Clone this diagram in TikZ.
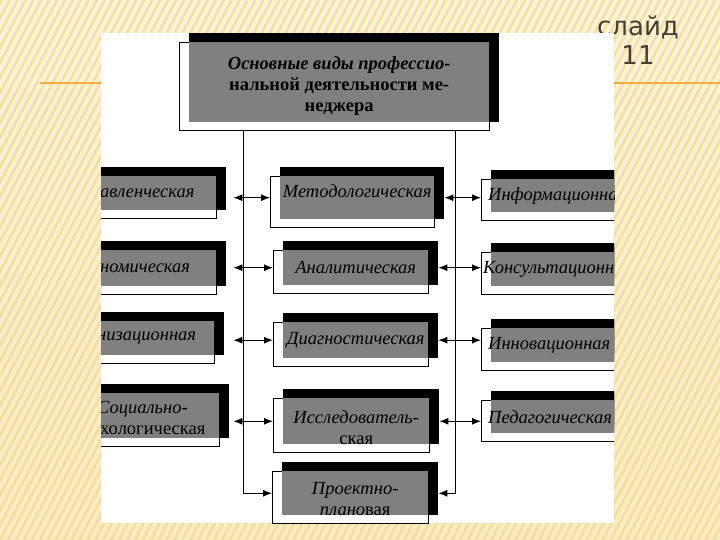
\documentclass[tikz,border=0pt]{standalone}
\usepackage{xcolor}
\usepackage{fontspec}
\setmainfont{Liberation Serif}
\newfontfamily\slidefont{DejaVu Sans}
\usepackage{tikz}
\usetikzlibrary{arrows.meta, shadows, patterns.meta, positioning}

\definecolor{cardgray}{HTML}{808080}
\definecolor{bgtop}{HTML}{FDF3D6}
\definecolor{bgbot}{HTML}{FAEBBF}
\definecolor{stripe}{HTML}{F0D999}
\definecolor{rulecol}{HTML}{F0AE40}
\definecolor{slidebrown}{HTML}{4A3E33}

\begin{document}
\begin{tikzpicture}[
  x = 1pt, y = -1pt,
  every node/.style = {font=\fontsize{18.5}{21}\selectfont\itshape},
  card/.style     = {rectangle, fill=cardgray, inner sep=0pt, anchor=north west,
                     general shadow={fill=black, shadow yshift=9pt},
                     general shadow={fill=black, shadow xshift=10pt},
                     general shadow={fill=black, shadow xshift=10pt, shadow yshift=9pt},
                     append after command={\pgfextra{\draw[framebox]
                       ([xshift=-10pt]\tikzlastnode.north west) rectangle
                       ([yshift=-8pt]\tikzlastnode.south east);}}},
  framebox/.style = {draw=black, line width=0.9pt},
  midcard/.style  = {card, align=center},
  sidecard/.style = {card, align=left},
  trunk/.style    = {line width=1pt, -{Latex[length=9pt, width=7pt]}},
  biarrow/.style  = {line width=1pt,
                     {Latex[length=9pt, width=7pt]}-{Latex[length=9pt, width=7pt]}}
]

\useasboundingbox (0,0) rectangle (720,540);

% --- фон слайда ---
\shade[top color=bgtop, bottom color=bgbot] (0,0) rectangle (720,540);
\fill[pattern={Lines[angle=62, distance=7pt, line width=2.6pt]},
      pattern color=stripe, opacity=0.75] (0,0) rectangle (720,540);
\draw[rulecol, line width=2pt] (40,83) -- (720,83);
\node[font=\slidefont\fontsize{26}{29}\selectfont, text=slidebrown, align=center]
  (slidenum) at (638,40) {слайд\\11};

\fill[white] (101,33) rectangle (614,523);

\begin{scope}
\clip (101,33) rectangle (614,523);

% --- заголовок ---
\node[midcard, minimum width=300pt, minimum height=80pt,
      font=\fontsize{18.5}{21}\selectfont\bfseries] (top) at (189,42)
  {\rule{0pt}{21pt}\itshape Основные виды профессио-\\\upshape нальной деятельности ме-\\неджера};

% --- левый столбец ---
\node[sidecard, text width=116pt, minimum height=34pt] (upr) at (100,176) {авленческая};
\node[sidecard, text width=116pt, minimum height=36pt] (eco) at (100,250) {номическая};
\node[sidecard, text width=117pt, minimum height=34pt] (org) at (97,321)  {низационная};
\node[sidecard, text width=119pt, minimum height=45pt] (soc) at (100,393)
  {\rule{0pt}{17pt}\hspace*{-3pt}Социально-\\\upshape хологическая};

% --- средний столбец ---
\node[midcard, minimum width=154pt, minimum height=43pt, text depth=13pt] (met) at (280,176)
  {Методологическая};
\node[midcard, minimum width=145pt, minimum height=35pt] (ana) at (283,250) {Аналитическая};
\node[midcard, minimum width=145pt, minimum height=36pt] (dia) at (283,322) {Диагностическая};
\node[midcard, minimum width=146pt, minimum height=43pt] (res) at (283,398)
  {\rule{0pt}{25pt}Исследователь-\\\upshape ская};
\node[midcard, minimum width=146pt, minimum height=43pt] (pro) at (282,471)
  {\rule{0pt}{23pt}Проектно-\\плано\upshape вая};

% --- правый столбец ---
\node[sidecard, text width=130pt, minimum height=33pt] (inf) at (491,179) {\hspace*{-3pt}Информационна};
\node[sidecard, text width=130pt, minimum height=34pt] (kon) at (491,252) {\hspace*{-8pt}Консультационн};
\node[sidecard, text width=130pt, minimum height=34pt] (inn) at (491,328) {\hspace*{-3pt}Инновационная};
\node[sidecard, text width=130pt, minimum height=33pt] (ped) at (491,400) {\hspace*{-3pt}Педагогическая};

% --- вертикальные линии ---
\coordinate (trunkL) at (243,130);
\coordinate (trunkR) at (455,130);
\draw[trunk] (trunkL) |- ([xshift=-10pt]pro.west);
\draw[trunk] (trunkR) |- ([xshift=10pt]pro.east);

% --- стрелки ---
\draw[biarrow] ([xshift=17pt]met.west -| upr.east) -- ([xshift=-10pt]met.west);
\draw[biarrow] ([xshift=17pt]ana.west -| eco.east) -- ([xshift=-10pt]ana.west);
\draw[biarrow] ([xshift=19pt]dia.west -| org.east) -- ([xshift=-10pt]dia.west);
\draw[biarrow] ([xshift=14pt]res.west -| soc.east) -- ([xshift=-10pt]res.west);

\draw[biarrow] ([xshift=10pt]met.east) -- ([xshift=-10pt]met.east -| inf.west);
\draw[biarrow] ([xshift=10pt]ana.east) -- ([xshift=-10pt]ana.east -| kon.west);
\draw[biarrow] ([xshift=10pt]dia.east) -- ([xshift=-10pt]dia.east -| inn.west);
\draw[biarrow] ([xshift=10pt]res.east) -- ([xshift=-10pt]res.east -| ped.west);
\end{scope}

\end{tikzpicture}
\end{document}
